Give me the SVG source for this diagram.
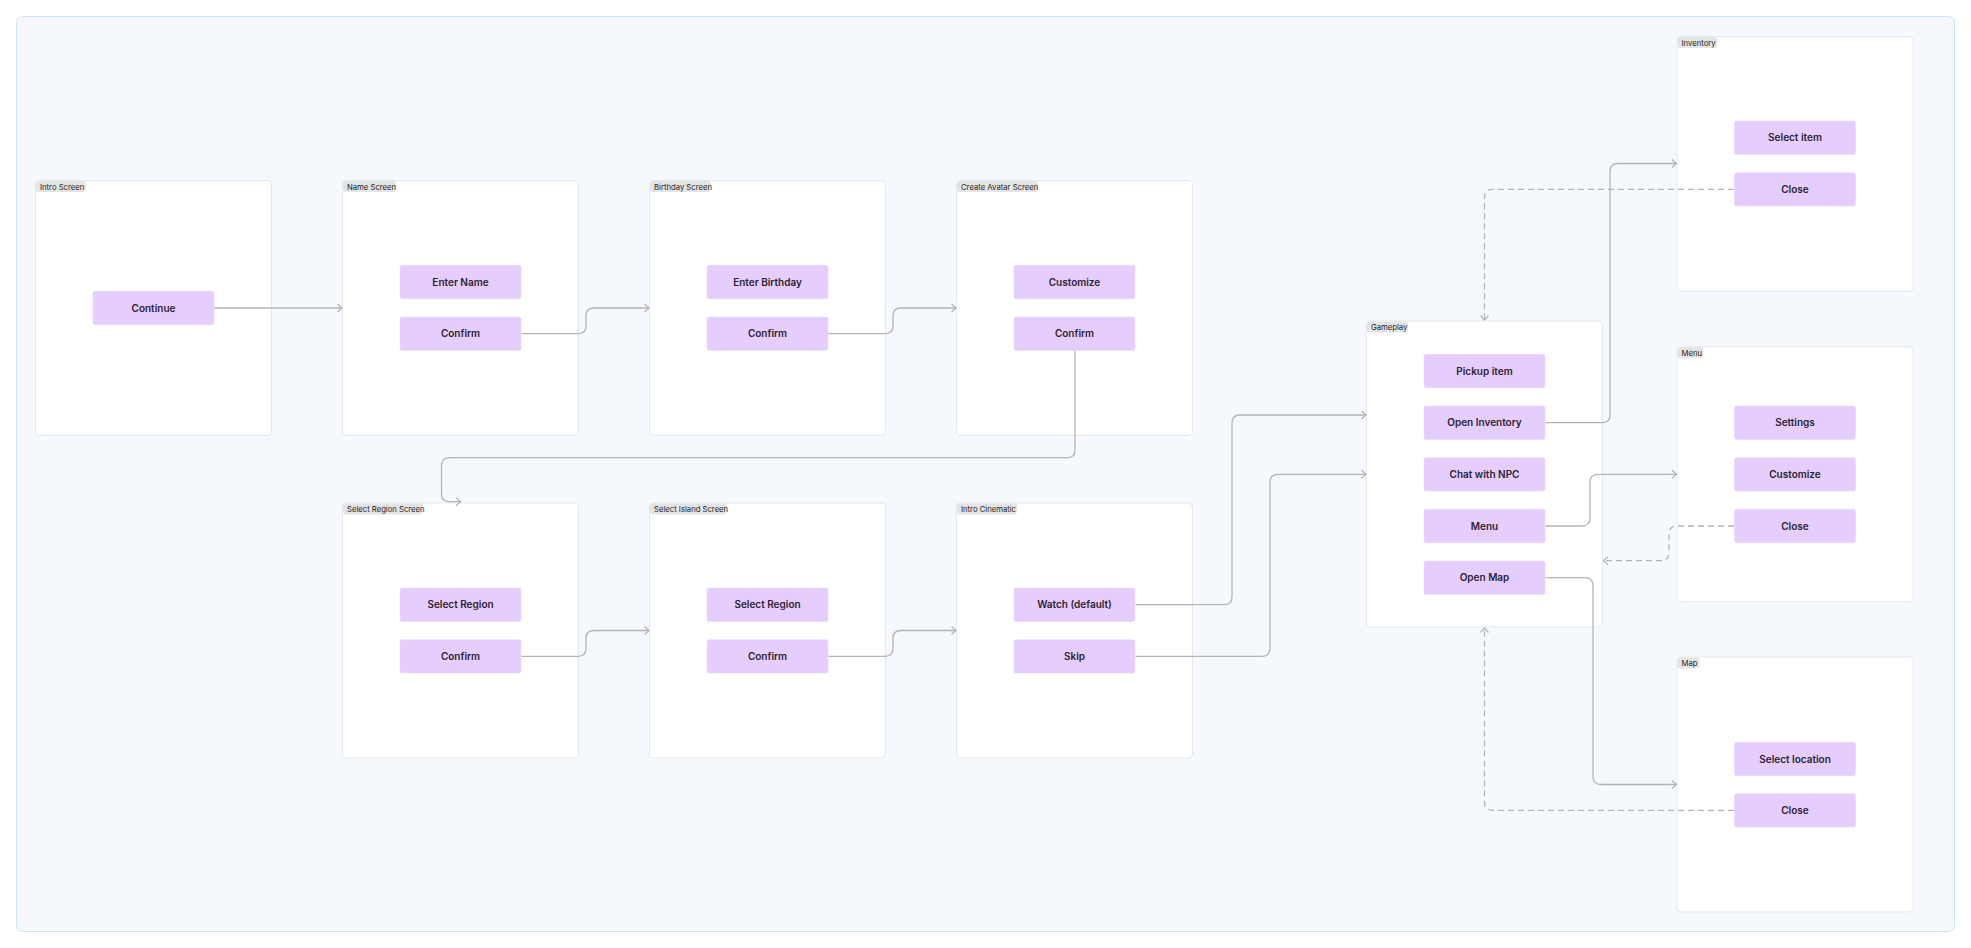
<svg xmlns="http://www.w3.org/2000/svg" width="1971" height="948" viewBox="0 0 1971 948">
<defs>
<style>
.frame{fill:#ffffff;stroke:#e6e8eb;stroke-width:1}
.tag{fill:#e4e4e4}
.tagt{font-family:Inter,"Liberation Sans",sans-serif;font-size:7.7px;fill:#1e1e1e}
.btn{fill:#e5cdfd;stroke:#e9d8fb;stroke-width:0.6}
.btnt{font-family:Inter,"Liberation Sans",sans-serif;font-size:10px;font-weight:600;fill:#2b2232;text-anchor:middle}
.c{fill:none;stroke:#b4b4b4;stroke-width:1.3}
.d{stroke-dasharray:6 4}
</style>
<marker id="arr" markerUnits="userSpaceOnUse" markerWidth="10" markerHeight="12" viewBox="-6 -6 8 12" refX="0" refY="0" orient="auto">
<path d="M-4.5,-4 L0,0 L-4.5,4" fill="none" stroke="#b4b4b4" stroke-width="1.2"/>
</marker>
</defs>
<rect x="16.5" y="16.5" width="1938" height="915" rx="6" fill="#f5f9fe" stroke="#cfe5f7" stroke-width="1"/>

<g id="intro-screen">
<rect class="frame" x="35.5" y="180.5" width="236" height="255" rx="4"/>
<rect class="tag" x="36" y="181" width="50" height="11" rx="3"/>
<text class="tagt" x="40" y="189.5">Intro Screen</text>
<rect class="btn" x="93" y="291.3" width="121" height="33.4" rx="2"/>
<text class="btnt" x="153.5" y="311.6">Continue</text>
</g>

<g id="name-screen">
<rect class="frame" x="342.5" y="180.5" width="236" height="255" rx="4"/>
<rect class="tag" x="343" y="181" width="53" height="11" rx="3"/>
<text class="tagt" x="347" y="189.5">Name Screen</text>
<rect class="btn" x="400" y="265.3" width="121" height="33.4" rx="2"/>
<text class="btnt" x="460.5" y="285.6">Enter Name</text>
<rect class="btn" x="400" y="317" width="121" height="33.4" rx="2"/>
<text class="btnt" x="460.5" y="337.3">Confirm</text>
</g>

<g id="birthday-screen">
<rect class="frame" x="649.5" y="180.5" width="236" height="255" rx="4"/>
<rect class="tag" x="650" y="181" width="61" height="11" rx="3"/>
<text class="tagt" x="654" y="189.5">Birthday Screen</text>
<rect class="btn" x="707" y="265.3" width="121" height="33.4" rx="2"/>
<text class="btnt" x="767.5" y="285.6">Enter Birthday</text>
<rect class="btn" x="707" y="317" width="121" height="33.4" rx="2"/>
<text class="btnt" x="767.5" y="337.3">Confirm</text>
</g>

<g id="create-avatar-screen">
<rect class="frame" x="956.5" y="180.5" width="236" height="255" rx="4"/>
<rect class="tag" x="957" y="181" width="81" height="11" rx="3"/>
<text class="tagt" x="961" y="189.5">Create Avatar Screen</text>
<rect class="btn" x="1014" y="265.3" width="121" height="33.4" rx="2"/>
<text class="btnt" x="1074.5" y="285.6">Customize</text>
<rect class="btn" x="1014" y="317" width="121" height="33.4" rx="2"/>
<text class="btnt" x="1074.5" y="337.3">Confirm</text>
</g>

<g id="select-region-screen">
<rect class="frame" x="342.5" y="503" width="236" height="255" rx="4"/>
<rect class="tag" x="343" y="503.5" width="80" height="11" rx="3"/>
<text class="tagt" x="347" y="512">Select Region Screen</text>
<rect class="btn" x="400" y="588" width="121" height="33.4" rx="2"/>
<text class="btnt" x="460.5" y="608.3">Select Region</text>
<rect class="btn" x="400" y="639.7" width="121" height="33.4" rx="2"/>
<text class="btnt" x="460.5" y="660">Confirm</text>
</g>

<g id="select-island-screen">
<rect class="frame" x="649.5" y="503" width="236" height="255" rx="4"/>
<rect class="tag" x="650" y="503.5" width="77" height="11" rx="3"/>
<text class="tagt" x="654" y="512">Select Island Screen</text>
<rect class="btn" x="707" y="588" width="121" height="33.4" rx="2"/>
<text class="btnt" x="767.5" y="608.3">Select Region</text>
<rect class="btn" x="707" y="639.7" width="121" height="33.4" rx="2"/>
<text class="btnt" x="767.5" y="660">Confirm</text>
</g>

<g id="intro-cinematic">
<rect class="frame" x="956.5" y="503" width="236" height="255" rx="4"/>
<rect class="tag" x="957" y="503.5" width="60" height="11" rx="3"/>
<text class="tagt" x="961" y="512">Intro Cinematic</text>
<rect class="btn" x="1014" y="588" width="121" height="33.4" rx="2"/>
<text class="btnt" x="1074.5" y="608.3">Watch (default)</text>
<rect class="btn" x="1014" y="639.7" width="121" height="33.4" rx="2"/>
<text class="btnt" x="1074.5" y="660">Skip</text>
</g>

<g id="gameplay">
<rect class="frame" x="1366.5" y="321" width="236" height="306" rx="4"/>
<rect class="tag" x="1367" y="321.5" width="41" height="11" rx="3"/>
<text class="tagt" x="1371" y="330">Gameplay</text>
<rect class="btn" x="1424" y="354.3" width="121" height="33.4" rx="2"/>
<text class="btnt" x="1484.5" y="374.6">Pickup item</text>
<rect class="btn" x="1424" y="406" width="121" height="33.4" rx="2"/>
<text class="btnt" x="1484.5" y="426.3">Open Inventory</text>
<rect class="btn" x="1424" y="457.7" width="121" height="33.4" rx="2"/>
<text class="btnt" x="1484.5" y="478">Chat with NPC</text>
<rect class="btn" x="1424" y="509.3" width="121" height="33.4" rx="2"/>
<text class="btnt" x="1484.5" y="529.6">Menu</text>
<rect class="btn" x="1424" y="561" width="121" height="33.4" rx="2"/>
<text class="btnt" x="1484.5" y="581.3">Open Map</text>
</g>

<g id="inventory">
<rect class="frame" x="1677" y="36.5" width="236" height="255" rx="4"/>
<rect class="tag" x="1677.5" y="37" width="40" height="11" rx="3"/>
<text class="tagt" x="1681.5" y="45.5">Inventory</text>
<rect class="btn" x="1734.5" y="121" width="121" height="33.4" rx="2"/>
<text class="btnt" x="1795" y="141.3">Select item</text>
<rect class="btn" x="1734.5" y="172.7" width="121" height="33.4" rx="2"/>
<text class="btnt" x="1795" y="193">Close</text>
</g>

<g id="menu">
<rect class="frame" x="1677" y="346.7" width="236" height="255" rx="4"/>
<rect class="tag" x="1677.5" y="347.2" width="26" height="11" rx="3"/>
<text class="tagt" x="1681.5" y="355.7">Menu</text>
<rect class="btn" x="1734.5" y="406" width="121" height="33.4" rx="2"/>
<text class="btnt" x="1795" y="426.3">Settings</text>
<rect class="btn" x="1734.5" y="457.7" width="121" height="33.4" rx="2"/>
<text class="btnt" x="1795" y="478">Customize</text>
<rect class="btn" x="1734.5" y="509.3" width="121" height="33.4" rx="2"/>
<text class="btnt" x="1795" y="529.6">Close</text>
</g>

<g id="map">
<rect class="frame" x="1677" y="657" width="236" height="255" rx="4"/>
<rect class="tag" x="1677.5" y="657.5" width="22" height="11" rx="3"/>
<text class="tagt" x="1681.5" y="666">Map</text>
<rect class="btn" x="1734.5" y="742.3" width="121" height="33.4" rx="2"/>
<text class="btnt" x="1795" y="762.6">Select location</text>
<rect class="btn" x="1734.5" y="793.7" width="121" height="33.4" rx="2"/>
<text class="btnt" x="1795" y="814">Close</text>
</g>

<g id="connectors">
<path class="c" marker-end="url(#arr)" d="M214.5,308 H342"/>
<path class="c" marker-end="url(#arr)" d="M521.5,333.7 H578 Q586,333.7 586,325.7 V316 Q586,308 594,308 H649"/>
<path class="c" marker-end="url(#arr)" d="M828.5,333.7 H885 Q893,333.7 893,325.7 V316 Q893,308 901,308 H956"/>
<path class="c" marker-end="url(#arr)" d="M1075,350.8 V449.7 Q1075,457.7 1067,457.7 H449.5 Q441.5,457.7 441.5,465.7 V493.7 Q441.5,501.7 449.5,501.7 H460.5"/>
<path class="c" marker-end="url(#arr)" d="M521.5,656.3 H578 Q586,656.3 586,648.3 V638.5 Q586,630.5 594,630.5 H649"/>
<path class="c" marker-end="url(#arr)" d="M828.5,656.3 H885 Q893,656.3 893,648.3 V638.5 Q893,630.5 901,630.5 H956"/>
<path class="c" marker-end="url(#arr)" d="M1135.5,604.7 H1224 Q1232,604.7 1232,596.7 V423 Q1232,415 1240,415 H1366"/>
<path class="c" marker-end="url(#arr)" d="M1135.5,656.3 H1262 Q1270,656.3 1270,648.3 V482.3 Q1270,474.3 1278,474.3 H1366"/>
<path class="c" marker-end="url(#arr)" d="M1545.5,422.7 H1602 Q1610,422.7 1610,414.7 V171.5 Q1610,163.5 1618,163.5 H1676.5"/>
<path class="c" marker-end="url(#arr)" d="M1545.5,526 H1582 Q1590,526 1590,518 V482.3 Q1590,474.3 1598,474.3 H1676.5"/>
<path class="c" marker-end="url(#arr)" d="M1545.5,577.7 H1585 Q1593,577.7 1593,585.7 V776.5 Q1593,784.5 1601,784.5 H1676.5"/>
<path class="c d" marker-end="url(#arr)" d="M1734,189.3 H1492.5 Q1484.5,189.3 1484.5,197.3 V320"/>
<path class="c d" marker-end="url(#arr)" d="M1734,526 H1677 Q1669,526 1669,534 V552.7 Q1669,560.7 1661,560.7 H1603.5"/>
<path class="c d" marker-end="url(#arr)" d="M1734,810.3 H1492.5 Q1484.5,810.3 1484.5,802.3 V628"/>
</g>
</svg>
